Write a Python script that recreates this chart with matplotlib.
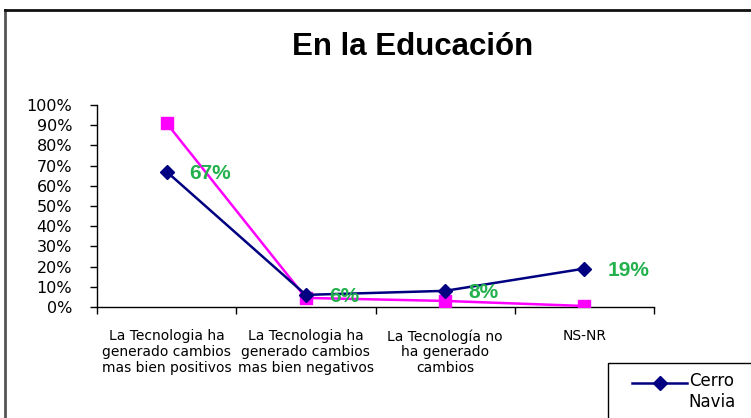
import matplotlib
matplotlib.use("Agg")
import matplotlib.pyplot as plt
from matplotlib.lines import Line2D
from matplotlib.patches import Rectangle
from matplotlib.ticker import FixedLocator, PercentFormatter

# ─── Data ────────────────────────────────────────────────────────────────────
categories = [
    "La Tecnologia ha\ngenerado cambios\nmas bien positivos",
    "La Tecnologia ha\ngenerado cambios\nmas bien negativos",
    "La Tecnología no\nha generado\ncambios",
    "NS-NR",
]
cerro_navia = [67, 6, 8, 19]          # navy diamonds (labelled)
other_series = [91, 4.5, 3, 0.5]      # magenta squares
label_values = ["67%", "6%", "8%", "19%"]
y_ticks = list(range(0, 101, 10))

W, H = 751, 418
plt.rcParams["font.family"] = ["DejaVu Sans"]
ARIAL = ["Liberation Sans", "DejaVu Sans"]

fig = plt.figure(figsize=(W / 100, H / 100), dpi=100)
fig.patch.set_facecolor("white")

# outer chart-area border (runs off right/bottom)
fig.add_artist(Line2D([5 / W, 5 / W], [0, 1 - 10 / H], transform=fig.transFigure,
                      color="#555555", lw=2))
fig.add_artist(Line2D([5 / W, 1], [1 - 10 / H, 1 - 10 / H], transform=fig.transFigure,
                      color="#111111", lw=2))

ax = fig.add_axes([97 / W, 111 / H, (654 - 97) / W, (307 - 105) / H])
xs = [i + 0.5 for i in range(len(categories))]

ax.plot(xs, other_series, color="#FF00FF", lw=1.8, marker="s", markersize=9,
        markerfacecolor="#FF00FF", markeredgecolor="#FF00FF", zorder=3)
ax.plot(xs, cerro_navia, color="#000080", lw=1.8, marker="D", markersize=7,
        markerfacecolor="#000080", markeredgecolor="#000080", zorder=4,
        label="Cerro\nNavia")

for x, v, txt in zip(xs, cerro_navia, label_values):
    ax.annotate(txt, (x, v), xytext=(16.5, -1), textcoords="offset points",
                ha="left", va="center", fontsize=15, fontweight="bold",
                family=ARIAL, color="#22B14C", zorder=5)

ax.set_xlim(0, len(categories))
ax.set_ylim(0, 100)
ax.yaxis.set_major_locator(FixedLocator(y_ticks))
ax.yaxis.set_major_formatter(PercentFormatter(decimals=0))
ax.tick_params(axis="y", direction="out", length=5, width=1, pad=13,
               labelsize=11.5, colors="black")

ax.xaxis.set_major_locator(FixedLocator(range(len(categories) + 1)))
ax.xaxis.set_minor_locator(FixedLocator(xs))
ax.set_xticklabels([], minor=False)
ax.set_xticklabels(categories, minor=True, fontsize=10, linespacing=1.15,
                   va="top")
ax.tick_params(axis="x", which="major", direction="out", length=5, width=1)
ax.tick_params(axis="x", which="minor", length=0, pad=16)

for side in ("top", "right"):
    ax.spines[side].set_visible(False)
for side in ("left", "bottom"):
    ax.spines[side].set_color("black")
    ax.spines[side].set_linewidth(1)

fig.text(413 / W, 1 - 47 / H, "En la Educación", ha="center", va="center",
         fontsize=22.5, fontweight="bold", family=ARIAL)

# legend box (runs off right/bottom like the original)
fig.add_artist(Rectangle((608 / W, -0.05), 0.5, 0.05 + 1 - 363 / H,
                         transform=fig.transFigure, facecolor="white",
                         edgecolor="black", lw=1, zorder=6))
leg = fig.legend(handles=[ax.lines[1]], loc="upper left",
                 bbox_to_anchor=(632 / W, 1 - 372 / H), frameon=False,
                 fontsize=12, handlelength=3.3, borderpad=0, borderaxespad=0,
                 handletextpad=0.1, labelspacing=0.2)
leg.set_zorder(7)
# line up the legend handle with the first line of the label ("Cerro")
handle = leg.legend_handles[0]
handle.set_ydata([y + 7 for y in handle.get_ydata()])

fig.savefig("out.png", dpi=100, facecolor="white")
